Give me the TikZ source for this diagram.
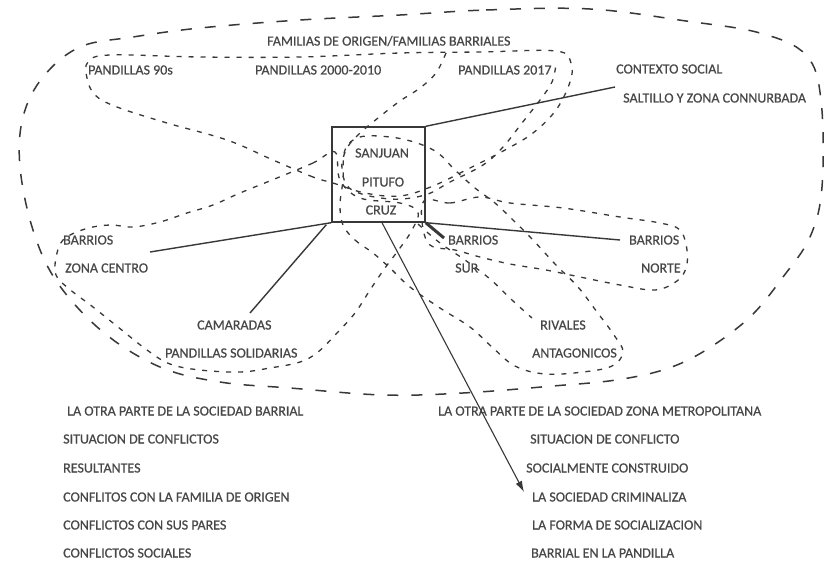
\documentclass[tikz,border=0pt]{standalone}
\usepackage{fontspec}
\setmainfont{Carlito}[FakeBold=0.6]
\usetikzlibrary{arrows.meta}
\definecolor{ink}{HTML}{383838}
\definecolor{txt}{HTML}{474747}
\begin{document}
\begin{tikzpicture}[x=1pt,y=-1pt,
 lbl/.style={anchor=west,inner sep=0pt,text=txt,font=\fontsize{14}{16}\selectfont},
 clbl/.style={inner sep=0pt,text=txt,font=\fontsize{14}{16}\selectfont},
 solidline/.style={draw=ink,line width=1.4pt},
 longdash/.style={draw=ink,line width=1.5pt,dash pattern=on 11pt off 13pt},
 shortdash/.style={draw=ink,line width=1.3pt,dash pattern=on 5pt off 7pt},
 corebox/.style={draw=ink,line width=1.4pt,minimum width=93pt,minimum height=95pt,inner sep=0pt},
]
\fill[white] (0,0) rectangle (826,560);
\useasboundingbox (0,0) rectangle (826,560);

% outer long-dashed contour
\draw[longdash] plot[smooth cycle, tension=0.6] coordinates {
 (400,15) (486,10) (590,9) (686,21) (760,33) (806,55) (821,100) (822,187) (810,237)
 (783,277) (750,317) (706,350) (666,369) (616,380) (553,386) (463,393) (383,395)
 (290,388) (220,382) (160,367) (103,332) (57,282) (33,230) (20,167) (23,117)
 (43,77) (80,47) (133,37) (200,28) (300,20)};

% pandillas 90s loop
\draw[shortdash] plot[smooth cycle, tension=0.6] coordinates {
 (333,183) (313,177) (273,160) (227,140) (167,123) (117,107) (95,95) (87,78) (88,62)
 (110,55) (200,57) (300,57) (400,53) (480,52) (556,51) (571,63) (570,82) (556,110)
 (533,133) (505,150) (470,168) (433,186) (400,196) (365,193)};

% pandillas 2017 inner line
\draw[shortdash] plot[smooth, tension=0.6] coordinates {
 (446,53) (436,73) (420,88) (400,101) (378,118) (358,135) (346,150) (342,170)
 (352,190) (390,199) (425,195) (450,182) (483,165) (503,147) (522,123) (540,100)
 (552,82) (556,64)};

% zona centro / camaradas loop
\draw[shortdash] plot[smooth cycle, tension=0.6] coordinates {
 (335,152) (313,163) (277,178) (240,193) (213,205) (187,213) (160,222) (133,227)
 (110,225) (85,229) (63,240) (56,258) (56,275) (68,288) (93,307) (118,327) (147,350)
 (170,364) (200,370) (240,372) (270,368) (300,362) (318,352) (337,333) (355,313)
 (370,290) (385,268) (400,248) (412,230) (418,212) (400,203) (360,198) (340,180)};

% rivales loop
\draw[shortdash] plot[smooth cycle, tension=0.6] coordinates {
 (343,225) (355,240) (373,253) (390,268) (410,287) (440,308) (470,327) (492,347)
 (515,366) (545,374) (583,372) (612,366) (623,352) (614,335) (597,312) (578,287)
 (556,265) (533,240) (513,220) (495,203) (475,188) (455,170) (438,153) (417,143)
 (390,137) (360,137) (345,150) (343,180) (340,205)};

% barrios norte loop
\draw[shortdash] plot[smooth cycle, tension=0.6] coordinates {
 (425,200) (450,203) (480,197) (510,203) (563,208) (620,217) (660,223) (680,230)
 (687,250) (686,268) (677,281) (655,290) (620,285) (580,277) (546,270) (510,264)
 (480,257) (455,250) (430,245) (422,222)};

% line toward rivales
\draw[shortdash] plot[smooth, tension=0.6] coordinates {
 (418,224) (440,243) (465,260) (490,279) (512,300) (532,318)};

% central box and its labels
\node[corebox] (core) at (378.5,174.5) {};
\node[clbl] (sanjuan) at (382,153) {SANJUAN};
\node[clbl] (pitufo) at (383,182) {PITUFO};
\node[clbl] (cruz) at (381,210) {CRUZ};

% outer labels
\node[lbl] (familias) at (267,41) {FAMILIAS DE ORIGEN/FAMILIAS BARRIALES};
\node[lbl] (p90) at (88,70) {PANDILLAS 90s};
\node[lbl] (p2000) at (255,70) {PANDILLAS 2000-2010};
\node[lbl] (p2017) at (458,70) {PANDILLAS 2017};
\node[lbl] (contexto) at (616,69) {CONTEXTO SOCIAL};
\node[lbl] (saltillo) at (623,98) {SALTILLO Y ZONA CONNURBADA};
\node[lbl] (bcentro) at (63,240) {BARRIOS};
\node[lbl] (zcentro) at (65,268) {ZONA CENTRO};
\node[lbl] (camaradas) at (197,325) {CAMARADAS};
\node[lbl] (solidarias) at (165,353) {PANDILLAS SOLIDARIAS};
\node[lbl] (bsur) at (448,240) {BARRIOS};
\node[lbl] (sur) at (455,268) {SUR};
\node[lbl] (bnorte) at (629,240) {BARRIOS};
\node[lbl] (norte) at (641,268) {NORTE};
\node[lbl] (rivales) at (540,325) {RIVALES};
\node[lbl] (antagonicos) at (532,353) {ANTAGONICOS};

% left list
\node[lbl] (l1) at (67,411) {LA OTRA PARTE DE LA SOCIEDAD BARRIAL};
\node[lbl] (l2) at (63,439) {SITUACION DE CONFLICTOS};
\node[lbl] (l3) at (63,468) {RESULTANTES};
\node[lbl] (l4) at (63,497) {CONFLITOS CON LA FAMILIA DE ORIGEN};
\node[lbl] (l5) at (63,525) {CONFLICTOS CON SUS PARES};
\node[lbl] (l6) at (63,553) {CONFLICTOS SOCIALES};

% right list
\node[lbl] (r1) at (438,411) {LA OTRA PARTE DE LA SOCIEDAD ZONA METROPOLITANA};
\node[lbl] (r2) at (530,439) {SITUACION DE CONFLICTO};
\node[lbl] (r3) at (526,468) {SOCIALMENTE CONSTRUIDO};
\node[lbl] (r4) at (532,497) {LA SOCIEDAD CRIMINALIZA};
\node[lbl] (r5) at (532,525) {LA FORMA DE SOCIALIZACION};
\node[lbl] (r6) at (531,553) {BARRIAL EN LA PANDILLA};

% solid connectors
\coordinate (ctxend) at (615,87);
\coordinate (zcend) at (150,252);
\coordinate (camend) at (250,313);
\coordinate (bnend) at (620,240);
\coordinate (bsend) at (444,238);
\coordinate (arrend) at (524,492);
\draw[solidline] (core.north east) -- (ctxend);
\draw[solidline] (core.south west) -- (zcend);
\draw[solidline] ([xshift=-5pt,yshift=-2pt]core.south west) -- (camend);
\draw[solidline] (core.south east) -- (bnend);
\draw[draw=ink,line width=3pt] (core.south east) -- (bsend);
\draw[draw=ink,line width=1.1pt,-{Latex[length=11pt,width=7pt]}] ([xshift=3.5pt]core.south) -- (arrend);
\end{tikzpicture}
\end{document}
